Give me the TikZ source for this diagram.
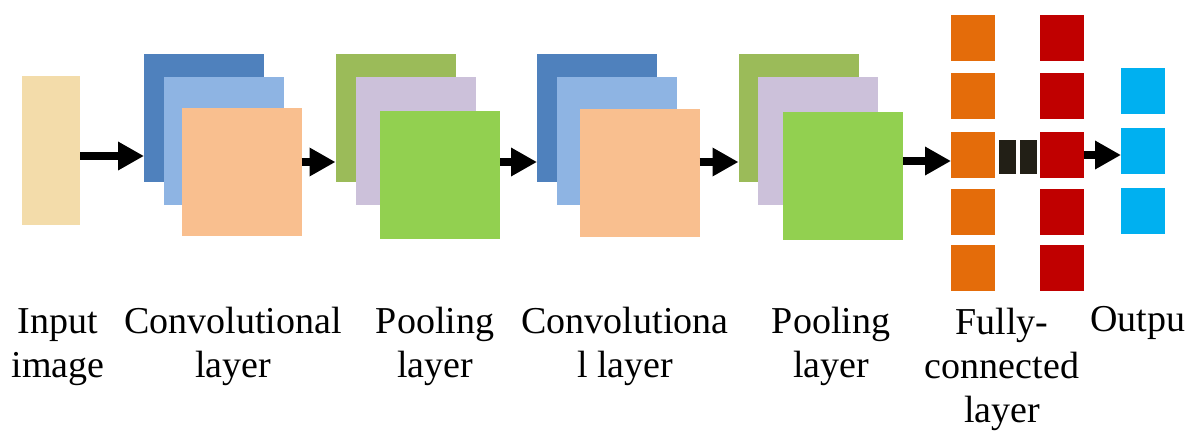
\documentclass[tikz,border=0pt]{standalone}
\usepackage{fontspec}
\setmainfont{Liberation Serif}
\usetikzlibrary{arrows.meta}

\definecolor{inputc}{HTML}{F3DCAA}
\definecolor{convA}{HTML}{4F81BD}
\definecolor{convB}{HTML}{8EB4E3}
\definecolor{convC}{HTML}{F9BF8F}
\definecolor{poolA}{HTML}{9BBB59}
\definecolor{poolB}{HTML}{CCC1DA}
\definecolor{poolC}{HTML}{92D050}
\definecolor{fcA}{HTML}{E46C0A}
\definecolor{fcB}{HTML}{C00000}
\definecolor{outc}{HTML}{00B0F0}
\definecolor{barc}{HTML}{221F16}

\begin{document}
\begin{tikzpicture}[x=1pt,y=-1pt,
  blk/.style={rectangle, inner sep=0pt, outer sep=0pt, draw=none},
  fmap/.style={blk, minimum width=120pt, minimum height=128pt},
  unit/.style={blk, minimum width=44pt, minimum height=46pt},
  sep/.style={blk, minimum width=17pt, minimum height=34pt, fill=barc},
  arr/.style={line width=7.5pt, -{Triangle[length=26pt,width=27pt]}},
  lbl/.style={align=center, anchor=base, inner sep=0pt,
    font=\fontsize{38}{44}\selectfont}
]
\useasboundingbox (0,0) rectangle (1192,432);

% input image
\node[blk, fill=inputc, minimum width=58pt, minimum height=149pt] (in) at (51,150.5) {};

% first convolutional layer
\node[fmap, fill=convA] (c1a) at (204,118) {};
\node[fmap, fill=convB] (c1b) at (224,141) {};
\node[fmap, fill=convC] (c1c) at (241.5,172) {};

% first pooling layer
\node[fmap, fill=poolA] (p1a) at (395.5,118) {};
\node[fmap, fill=poolB] (p1b) at (415.5,140.5) {};
\node[fmap, fill=poolC] (p1c) at (440,175) {};

% second convolutional layer
\node[fmap, fill=convA] (c2a) at (597,118) {};
\node[fmap, fill=convB] (c2b) at (616.5,141) {};
\node[fmap, fill=convC] (c2c) at (639.5,172.5) {};

% second pooling layer
\node[fmap, fill=poolA] (p2a) at (798.5,118) {};
\node[fmap, fill=poolB] (p2b) at (817.5,141) {};
\node[fmap, fill=poolC] (p2c) at (843,175.5) {};

% fully-connected columns
\foreach \i/\y in {1/38,2/96,3/155,4/212,5/268}{
  \node[unit, fill=fcA] (fa\i) at (973,\y) {};
  \node[unit, fill=fcB] (fb\i) at (1061.5,\y) {};
}
\node[sep] (s1) at (1007.5,157) {};
\node[sep] (s2) at (1028,157) {};

% output units
\node[unit, fill=outc] (o1) at (1143,91) {};
\node[unit, fill=outc] (o2) at (1143,151) {};
\node[unit, fill=outc] (o3) at (1143,211) {};

% connectors
\draw[arr] ([yshift=-5.5pt]in.east) -- ([yshift=-38pt]c1a.west);
\draw[arr] ([yshift=10pt]c1c.east) -- ([yshift=-44pt]p1a.west);
\draw[arr] ([yshift=13pt]p1c.east) -- ([yshift=-44pt]c2a.west);
\draw[arr] ([yshift=10.5pt]c2c.east) -- ([yshift=-44pt]p2a.west);
\draw[arr] ([yshift=14.5pt]p2c.east) -- ([yshift=-6pt]fa3.west);
\draw[arr] (fb3.east) -- ([yshift=-4pt]o2.west);

% labels (anchored at the baseline of the last line)
\node[lbl] (l1) at (58,377) {Input\\image};
\node[lbl] (l2) at (233,377) {Convolutional\\layer};
\node[lbl] (l3) at (435,377) {Pooling\\layer};
\node[lbl] (l4) at (625,377) {Convolutiona\\l layer};
\node[lbl] (l5) at (831,377) {Pooling\\layer};
\node[lbl] (l6) at (1002,422) {Fully-\\connected\\layer};
\node[lbl] (l7) at (1138,331) {Outpu};
\end{tikzpicture}
\end{document}
